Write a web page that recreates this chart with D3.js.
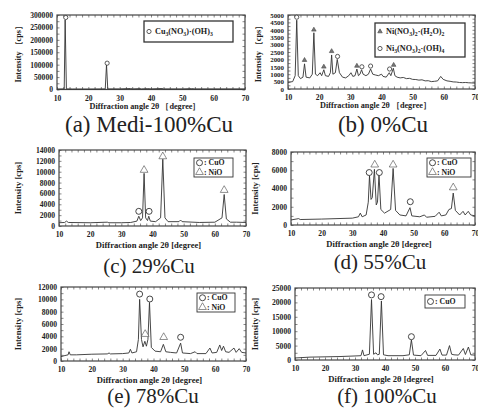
<!DOCTYPE html>
<html>
<head>
<meta charset="utf-8">
<script src="https://cdn.jsdelivr.net/npm/d3@7"></script>
<style>
body { margin: 0; background: #fff; }
svg { display: block; }
text { font-family: "Liberation Serif", "Times New Roman", serif; fill: #222; }
</style>
</head>
<body>
<svg id="fig" width="478" height="408"></svg>
<script>
// XRD patterns: [2theta (deg), intensity (cps)]
const mediData = [[10,2000],[12.3,2500],[12.6,280000],[13.0,2500],[15,2000],[20,2000],[25.4,2500],[25.8,100000],[26.2,2500],
  [30,2500],[33.5,4000],[34,2500],[36.5,3500],[37,2500],[39,3500],[40,2500],[43.5,4000],[44,2500],[50,2500],[53,3500],[54,2500],[60,2500],[70,2500]];
const mediDiamonds = [[12.8,290000],[26.0,106000]];

const cu0Data = [[10,450],[11.5,500],[12.3,900],[12.8,4650],[13.3,900],[14,700],[14.8,800],[15.3,1700],[15.8,800],[17,750],[17.8,1000],
  [18.3,3800],[18.8,1000],[19.5,900],[20.3,1100],[20.8,900],[21.5,1300],[22,900],[23,850],[23.6,1100],[24,2300],[24.4,1000],[25.2,1100],
  [25.8,2000],[26.5,1100],[27.5,800],[28.5,750],[29.5,900],[30.2,1100],[30.8,850],[31.5,900],[32.1,1350],[32.6,900],[33.1,1000],[33.6,1300],
  [34.1,1000],[35,900],[35.8,1000],[36.5,1350],[37.2,1000],[38,950],[39,900],[40,1000],[40.5,850],[41.5,800],[42.5,1100],[43,900],[43.8,1400],
  [44.3,900],[45,800],[46,750],[47,780],[48,700],[49,720],[50,650],[51,640],[52,600],[53,620],[54,550],[55,560],[56,500],[57,520],[58,550],
  [59,850],[59.8,650],[61,550],[62,520],[63,480],[64,470],[65,440],[66,430],[67,440],[68,420],[69,410],[70,400]];
const cu0Triangles = [[15.3,1950],[18.3,4000],[21.5,1500],[24.0,2550],[32.1,1560],[43.9,1620]];
const cu0Diamonds = [[12.8,4850],[25.9,2200],[33.7,1500],[36.5,1550],[42.6,1350]];

const cu29Data = [[10,600],[11.8,650],[12.4,900],[13,650],[20,600],[25.5,700],[26,600],[30,600],[33,650],[35,900],[35.6,1800],[36.2,1000],
  [36.8,1500],[37.3,9700],[37.8,1500],[38.4,1000],[38.8,1800],[39.3,900],[41,800],[42.6,1500],[43.3,12300],[44,1500],[45,800],[48.5,800],
  [49,1100],[49.5,800],[55,650],[60,700],[62.3,1500],[63,5800],[63.7,1300],[65,700],[67,700],[70,650]];
const cu29Circles = [[35.6,2700],[38.9,2700]];
const cu29Triangles = [[37.3,10300],[43.3,12800],[63.0,6600]];

const cu55Data = [[10,550],[12.5,700],[13,600],[20,650],[30,750],[32,900],[32.6,1300],[33.2,900],[34.5,1100],[35.2,2500],[35.6,5400],
  [36.1,2800],[36.5,3000],[37.2,6100],[37.8,2200],[38.2,2500],[38.7,5500],[39.3,1700],[40.5,1300],[42.5,1700],[43.3,6200],[44.1,1600],
  [45.5,1100],[47.5,1000],[48.8,1900],[49.4,1000],[52,900],[53.5,1100],[54.2,850],[57,950],[58.3,1400],[59,1000],[60.5,1100],[61.5,1700],
  [62.3,1800],[62.9,3500],[63.6,1600],[65,1100],[66.1,1500],[66.8,1100],[67.8,1500],[68.6,1100],[70,1000]];
const cu55Circles = [[35.5,5750],[38.8,5750],[48.9,2550]];
const cu55Triangles = [[37.3,6600],[43.3,6600],[62.9,4100]];

const cu78Data = [[10,700],[11,850],[12.3,1000],[12.6,1500],[13,1000],[15,1000],[20,1100],[25,1150],[25.6,1300],[26,1150],[30,1200],[32,1300],
  [32.5,1900],[33,1300],[34.5,1500],[35.1,3500],[35.5,10000],[36.1,3500],[36.6,2300],[37.2,3200],[37.7,2400],[38.2,3500],[38.7,9500],
  [39.3,2200],[40.5,1600],[42.3,1500],[43.2,2700],[44,1500],[45.5,1400],[47.5,1300],[48.8,2900],[49.4,1300],[52,1200],[53.5,1500],
  [54.1,1200],[57,1200],[58.3,2100],[59,1300],[60.5,1400],[61.5,2600],[62.1,1700],[62.7,2400],[63.4,1500],[64.5,1400],[66.1,2100],
  [66.8,1400],[67.8,2000],[68.6,1400],[70,1300]];
const cu78Circles = [[35.5,10850],[38.8,10050],[48.8,3850]];
const cu78Triangles = [[37.3,4350],[43.3,3850]];

const cu100Data = [[10,700],[15,1000],[20,1100],[25,1200],[30,1400],[32,1500],[32.5,3500],[33,1500],[34.8,2000],[35.5,21000],[36.2,2000],
  [37,2500],[37.5,1800],[38.1,2000],[38.8,20500],[39.5,1800],[41,1500],[43,1500],[46,1500],[48.1,1800],[48.8,7000],[49.5,1700],[52,1500],
  [53.5,3300],[54.2,1600],[57,1600],[58.3,3800],[59,1700],[60.5,1700],[61.5,5000],[62.2,2000],[63,1800],[64.5,1700],[66.1,4000],
  [66.8,1900],[67.8,4500],[68.6,1800],[70,1700]];
const cu100Circles = [[35.5,22600],[38.7,22000],[48.8,8100]];

const xTicks = [10, 20, 30, 40, 50, 60, 70];
const captions = ["(a) Medi-100%Cu", "(b) 0%Cu", "(c) 29%Cu", "(d) 55%Cu", "(e) 78%Cu", "(f) 100%Cu"];

const svg = d3.select("#fig");

const panels = [
  { left: 57, right: 245, top: 15, bottom: 89.5, yMax: 300000, yStep: 50000, data: mediData, cap: captions[0], capX: 149, capY: 132, capSize: 23,
    wide: true, titleX: 21, labelSize: 7.6, markers: [{ kind: "diamond", pts: mediDiamonds }],
    legend: { x: 144, y: 21, w: 89, h: 21, rows: [{ kind: "diamond", label: "Cu_3(NO_3)·(OH)_3" }] } },
  { left: 288, right: 475, top: 15, bottom: 89, yMax: 5000, yStep: 500, data: cu0Data, cap: captions[1], capX: 383, capY: 132, capSize: 23,
    wide: true, titleX: 261, labelSize: 6.9, markers: [{ kind: "tri-small", pts: cu0Triangles }, { kind: "diamond", pts: cu0Diamonds }],
    legend: { x: 375, y: 23, w: 90, h: 34, rows: [{ kind: "tri-small", label: "Ni(NO_3)_2·(H_2O)_2" }, { kind: "diamond", label: "Ni_3(NO_3)_2·(OH)_4" }] } },
  { left: 59, right: 246, top: 150, bottom: 226, yMax: 14000, yStep: 2000, data: cu29Data, cap: captions[2], capX: 149, capY: 273, capSize: 21,
    titleX: 21, labelSize: 7.6, markers: [{ kind: "circle", pts: cu29Circles }, { kind: "tri", pts: cu29Triangles }],
    legend: { x: 194, y: 158, w: 39, h: 19, rows: [{ kind: "circle", label: ": CuO" }, { kind: "tri", label: ": NiO" }] } },
  { left: 291, right: 475, top: 152, bottom: 225, yMax: 8000, yStep: 2000, data: cu55Data, cap: captions[3], capX: 380, capY: 269, capSize: 21,
    titleX: 258, labelSize: 7.6, markers: [{ kind: "circle", pts: cu55Circles }, { kind: "tri", pts: cu55Triangles }],
    legend: { x: 427, y: 158, w: 44, h: 19, rows: [{ kind: "circle", label: ": CuO" }, { kind: "tri", label: ": NiO" }] } },
  { left: 61, right: 246, top: 287, bottom: 361, yMax: 12000, yStep: 2000, data: cu78Data, cap: captions[4], capX: 153, capY: 403, capSize: 21,
    titleX: 21, labelSize: 7.6, markers: [{ kind: "circle", pts: cu78Circles }, { kind: "tri", pts: cu78Triangles }],
    legend: { x: 197, y: 293, w: 38, h: 19, rows: [{ kind: "circle", label: ": CuO" }, { kind: "tri", label: ": NiO" }] } },
  { left: 295, right: 475, top: 288, bottom: 360, yMax: 25000, yStep: 5000, data: cu100Data, cap: captions[5], capX: 387, capY: 403, capSize: 21,
    titleX: 258, labelSize: 7.6, markers: [{ kind: "circle", pts: cu100Circles }],
    legend: { x: 425, y: 295, w: 40, h: 13, rows: [{ kind: "circle", label: ": CuO" }] } }
];

// writes "Cu_3" style labels with subscripts
function richText(sel, label, size) {
  const parts = label.split(/(_\d)/).filter(s => s.length);
  let shift = 0;
  parts.forEach(s => {
    const sub = s[0] === "_";
    const t = sel.append("tspan").text(sub ? s.slice(1) : s);
    const target = sub ? size * 0.25 : 0;
    if (target !== shift) t.attr("dy", target - shift);
    shift = target;
    t.attr("font-size", sub ? size * 0.7 : size);
  });
}

function drawMarker(g, kind, cx, cy) {
  if (kind === "circle") {
    g.append("circle").attr("cx", cx).attr("cy", cy).attr("r", 3)
      .attr("fill", "white").attr("stroke", "#333").attr("stroke-width", 0.9);
  } else if (kind === "diamond") {
    g.append("circle").attr("cx", cx).attr("cy", cy).attr("r", 2.1)
      .attr("fill", "white").attr("stroke", "#333").attr("stroke-width", 0.8);
  } else {
    const s = kind === "tri" ? 26 : 9;
    g.append("path").attr("d", d3.symbol(d3.symbolTriangle, s)())
      .attr("transform", `translate(${cx},${cy})`)
      .attr("fill", kind === "tri" ? "white" : "#777").attr("stroke", "#444").attr("stroke-width", 0.6);
  }
}

function drawPanel(p) {
  const g = svg.append("g");
  const x = d3.scaleLinear().domain([10, 70]).range([p.left, p.right]);
  const y = d3.scaleLinear().domain([0, p.yMax]).range([p.bottom, p.top]);
  const yTicks = d3.range(0, p.yMax + 1, p.yStep);
  const minorX = d3.range(10, 70.01, 2);
  const minorY = d3.range(0, p.yMax + 1, p.yStep / 2);
  const h = p.bottom - p.top, w = p.right - p.left;

  // inner ticks on all four sides
  const axes = [
    [d3.axisBottom(x), `translate(0,${p.bottom})`, minorX],
    [d3.axisTop(x), `translate(0,${p.top})`, minorX],
    [d3.axisLeft(y), `translate(${p.left},0)`, minorY],
    [d3.axisRight(y), `translate(${p.right},0)`, minorY]
  ];
  axes.forEach(([ax, tr, vals]) => {
    const a = g.append("g").attr("transform", tr)
      .call(ax.tickValues(vals).tickSize(-2.5).tickFormat(""));
    a.select(".domain").remove();
    a.selectAll("text").remove();
    a.selectAll("line").attr("stroke", "#555").attr("stroke-width", 0.7);
  });

  // tick labels
  const bx = g.append("g").attr("transform", `translate(0,${p.bottom})`)
    .call(d3.axisBottom(x).tickValues(xTicks).tickSize(0).tickPadding(6).tickFormat(d3.format("d")));
  const ly = g.append("g").attr("transform", `translate(${p.left},0)`)
    .call(d3.axisLeft(y).tickValues(yTicks).tickSize(0).tickPadding(4).tickFormat(d3.format("d")));
  bx.selectAll("text").attr("font-size", 7.6);
  ly.selectAll("text").attr("font-size", p.labelSize);
  [bx, ly].forEach(a => {
    a.select(".domain").remove();
    a.selectAll("text").attr("font-family", "Liberation Serif").attr("font-weight", "bold").attr("fill", "#333");
  });

  // frame
  g.append("rect").attr("x", p.left).attr("y", p.top).attr("width", w).attr("height", h)
    .attr("fill", "none").attr("stroke", "#444").attr("stroke-width", 1.2);

  // pattern
  g.append("path").datum(p.data)
    .attr("d", d3.line().x(d => x(d[0])).y(d => y(d[1])))
    .attr("fill", "none").attr("stroke", "#333").attr("stroke-width", 0.9).attr("stroke-linejoin", "round");

  p.markers.forEach(m => m.pts.forEach(d => drawMarker(g, m.kind, x(d[0]), y(d[1]))));

  // legend
  const L = p.legend;
  g.append("rect").attr("x", L.x).attr("y", L.y).attr("width", L.w).attr("height", L.h)
    .attr("fill", "white").attr("stroke", "#333").attr("stroke-width", p.wide ? 1.3 : 0.9);
  const rowH = L.h / L.rows.length;
  const fs = p.wide ? 8.2 : 7.8;
  L.rows.forEach((r, i) => {
    const cy = L.y + rowH * (i + 0.5);
    drawMarker(g, r.kind, L.x + (p.wide ? 5 : 5.5), cy);
    const t = g.append("text").attr("x", L.x + (p.wide ? 11 : 10)).attr("y", cy + fs * 0.33)
      .attr("font-size", fs).attr("font-weight", "bold");
    richText(t, r.label, fs);
  });

  // axis titles
  const ts = p.wide ? 8.2 : 8.6;
  g.append("text").attr("x", (p.left + p.right) / 2 - (p.wide ? 6 : 4)).attr("y", p.bottom + (p.wide ? 19 : 22))
    .attr("text-anchor", "middle").attr("font-size", ts).attr("font-weight", "bold").attr("fill", "#444")
    .text(p.wide ? "Diffraction angle 2\u03b8 \uff3bdegree\uff3d" : "Diffraction angle 2\u03b8 [degree]");
  const yc = (p.top + p.bottom) / 2;
  g.append("text").attr("transform", `translate(${p.titleX},${yc}) rotate(-90)`)
    .attr("text-anchor", "middle").attr("font-size", ts).attr("font-weight", "bold").attr("fill", "#444")
    .text(p.wide ? "Intensity \uff3bcps\uff3d" : "Intensity [cps]");

  // caption
  g.append("text").attr("x", p.capX).attr("y", p.capY).attr("text-anchor", "middle")
    .attr("font-size", p.capSize).attr("fill", "#111").text(p.cap);
}

panels.forEach(drawPanel);
</script>
</body>
</html>
